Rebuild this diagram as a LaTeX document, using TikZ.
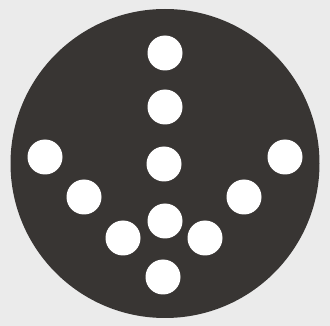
\documentclass[tikz,border=0pt]{standalone}
\definecolor{bg}{HTML}{EBEBEB}
\definecolor{disc}{HTML}{383533}
\tikzset{
  hole/.style={circle,fill=white,draw=none,minimum size=35pt,inner sep=0pt},
  discstyle/.style={circle,fill=disc,draw=none,minimum size=309pt,inner sep=0pt}
}
\begin{document}
\begin{tikzpicture}[x=1pt,y=-1pt]
\fill[bg] (0,0) rectangle (330,326);
\useasboundingbox (0,0) rectangle (330,326);
\node[discstyle] (d) at (165,163.5) {};
\node[hole] (h1) at (165,53) {};
\node[hole] (h2) at (165,107) {};
\node[hole] (h3) at (164,164) {};
\node[hole] (h4) at (165,221) {};
\node[hole] (h5) at (163,277) {};
\node[hole] (l1) at (45,157) {};
\node[hole] (l2) at (84,197) {};
\node[hole] (l3) at (123,238) {};
\node[hole] (r1) at (285,157) {};
\node[hole] (r2) at (244,197) {};
\node[hole] (r3) at (205,238) {};
\end{tikzpicture}
\end{document}
